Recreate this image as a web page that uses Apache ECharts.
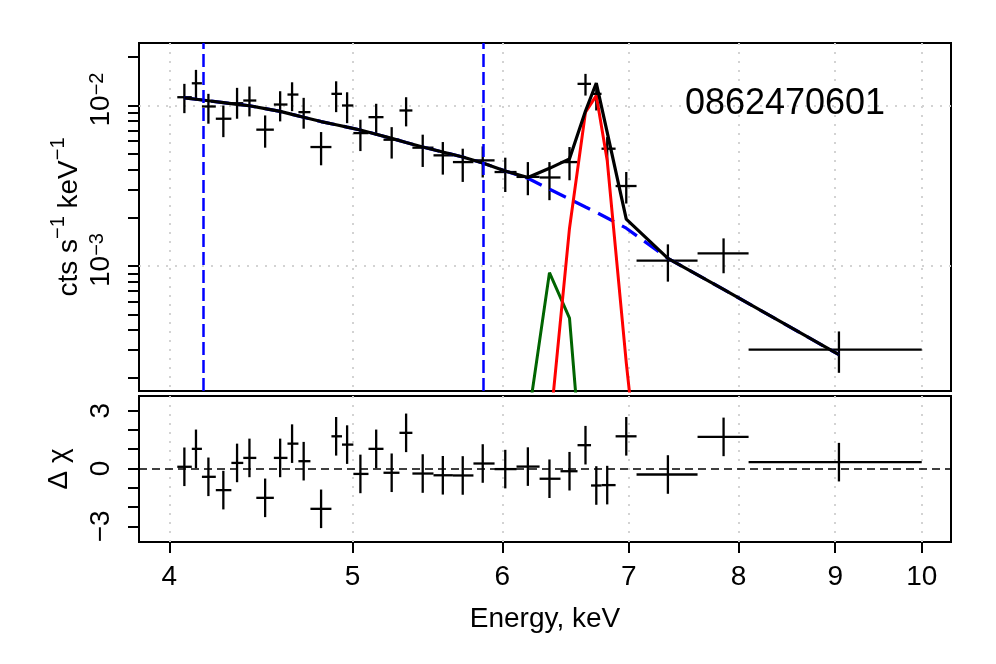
<!DOCTYPE html>
<html>
<head>
<meta charset="utf-8">
<script src="https://cdn.jsdelivr.net/npm/echarts@6.0.0/dist/echarts.min.js"></script>
<style>
  html, body { margin: 0; padding: 0; background: #fff; }
  #spec { width: 996px; height: 664px; }
</style>
</head>
<body>
<div id="spec"></div>
<script>
// energy bins (keV): edges and plotted centres
var binEdges = [4.039, 4.111, 4.162, 4.233, 4.314, 4.377, 4.447, 4.543, 4.619, 4.681, 4.750,
  4.873, 4.936, 5.005, 5.098, 5.192, 5.294, 5.378, 5.518, 5.650, 5.793, 5.944, 6.105, 6.279,
  6.441, 6.576, 6.685, 6.771, 6.888, 7.066, 7.611, 8.099, 10.0];
var energy = [4.074, 4.132, 4.195, 4.272, 4.344, 4.410, 4.495, 4.578, 4.645, 4.711, 4.812,
  4.901, 4.967, 5.048, 5.146, 5.244, 5.337, 5.446, 5.581, 5.718, 5.859, 6.022, 6.190, 6.355,
  6.512, 6.640, 6.728, 6.818, 6.978, 7.341, 7.856, 9.041];

// observed rate, cts s^-1 keV^-1, with lower / upper error ends
var rate = [0.01126, 0.01375, 0.00986, 0.00827, 0.01033, 0.01074, 0.00707, 0.01014, 0.01170,
  0.00909, 0.00551, 0.01182, 0.01000, 0.00673, 0.00846, 0.00612, 0.00931, 0.00546, 0.00489,
  0.00444, 0.00455, 0.00385, 0.00359, 0.00356, 0.00444, 0.01364, 0.01182, 0.00538, 0.00315,
  0.001079, 0.001199, 0.000301];
var rateLo = [0.00896, 0.01074, 0.00770, 0.00635, 0.00827, 0.00855, 0.00546, 0.00796, 0.00922,
  0.00717, 0.00424, 0.00909, 0.00776, 0.00520, 0.00651, 0.00467, 0.00741, 0.00414, 0.00371,
  0.00334, 0.00356, 0.00289, 0.00276, 0.00257, 0.00342, 0.01153, 0.00931, 0.00434, 0.00245,
  0.000799, 0.000901, 0.000216];
var rateHi = [0.01364, 0.01667, 0.01182, 0.01000, 0.01288, 0.01312, 0.00867, 0.01227, 0.01395,
  0.01116, 0.00683, 0.01415, 0.01209, 0.00815, 0.01025, 0.00733, 0.01126, 0.00658, 0.00592,
  0.00538, 0.00556, 0.00473, 0.00444, 0.00444, 0.00551, 0.01574, 0.01331, 0.00635, 0.00385,
  0.001364, 0.001486, 0.000391];

// model curves at the bin centres
var modelTotal = [0.01116, 0.01094, 0.01070, 0.01042, 0.01017, 0.00996, 0.00957, 0.00919,
  0.00880, 0.00844, 0.00794, 0.00759, 0.00733, 0.00703, 0.00662, 0.00624, 0.00588, 0.00551,
  0.00513, 0.00478, 0.00438, 0.00391, 0.00356, 0.00406, 0.00465, 0.00924, 0.01380, 0.00680,
  0.00196, 0.001116, 0.000715, 0.000280];
var modelCont = [0.01116, 0.01094, 0.01070, 0.01042, 0.01017, 0.00996, 0.00957, 0.00919,
  0.00880, 0.00844, 0.00794, 0.00759, 0.00733, 0.00703, 0.00662, 0.00624, 0.00588, 0.00551,
  0.00513, 0.00478, 0.00438, 0.00391, 0.00352, 0.00301, 0.00261, 0.00233, 0.00216, 0.00199,
  0.00172, 0.001116, 0.000715, 0.000280];
var greenE = [6.190, 6.355, 6.512, 6.640];
var greenLine = [0.000107, 0.000909, 0.000473, 0.000029];
var redE = [6.355, 6.512, 6.640, 6.728, 6.818, 6.978, 7.341];
var redLine = [0.000091, 0.00172, 0.00909, 0.01153, 0.00455, 0.00025, 0.000001];

// residuals (delta chi), error bars are +-1
var resid = [0.09, 1.02, -0.43, -1.12, 0.29, 0.55, -1.52, 0.55, 1.29, 0.38, -2.09, 1.67, 1.24,
  -0.28, 1.02, -0.22, 1.85, -0.26, -0.35, -0.36, 0.26, -0.03, 0.10, -0.53, -0.14, 1.21, -0.88,
  -0.86, 1.67, -0.31, 1.64, 0.33];
var residErr = 1;

// marked energies (blue dashed verticals)
var markEnergies = [4.166, 5.855];

// ticks
var energyTicks = [4, 5, 6, 7, 8, 9, 10];
var rateTicks = [0.0002, 0.0003, 0.0004, 0.0005, 0.0006, 0.0007, 0.0008, 0.0009, 0.001,
  0.002, 0.003, 0.004, 0.005, 0.006, 0.007, 0.008, 0.009, 0.01, 0.02];
var rateLabelValues = [0.001, 0.01];
var rateLabelText = ['10{sup|\u22123}', '10{sup|\u22122}'];
var residTicks = [-3, -2, -1, 0, 1, 2, 3];
var residLabelValues = [-3, 0, 3];

var xMin = 3.855, xMax = 10.363;
var yMin = 1.664e-4, yMax = 0.02451;
var rMin = -3.81, rMax = 3.76;

var FONT = '"Liberation Sans", Arial, Helvetica, sans-serif';
var dotted = { color: '#d3d3d3', width: 2, type: [2, 7] };
var blk = { color: '#000', width: 2 };

var specData = energy.map(function (e, i) {
  return [e, binEdges[i], binEdges[i + 1], rate[i], rateLo[i], rateHi[i]];
});
var residData = energy.map(function (e, i) {
  return [e, binEdges[i], binEdges[i + 1], resid[i], resid[i] - residErr, resid[i] + residErr];
});
function pairs(xs, ys) {
  return xs.map(function (x, i) { return [x, ys[i]]; });
}

function renderCross(params, api) {
  var y = api.value(3);
  var mid = api.coord([api.value(0), y]);
  var left = api.coord([api.value(1), y]);
  var right = api.coord([api.value(2), y]);
  var top = api.coord([api.value(0), api.value(5)]);
  var bot = api.coord([api.value(0), api.value(4)]);
  var st = { stroke: '#000', lineWidth: 2.3, fill: null };
  return {
    type: 'group',
    children: [
      { type: 'line', shape: { x1: left[0], y1: mid[1], x2: right[0], y2: mid[1] }, style: st },
      { type: 'line', shape: { x1: mid[0], y1: top[1], x2: mid[0], y2: bot[1] }, style: st }
    ]
  };
}

var chart = echarts.init(document.getElementById('spec'));

var option = {
  animation: false,
  backgroundColor: '#fff',
  textStyle: { fontFamily: FONT },
  graphic: [{
    type: 'text', x: 785, y: 104.5, z: 100,
    style: { text: '0862470601', fontSize: 36, fontFamily: FONT, fill: '#000',
      align: 'center', verticalAlign: 'middle' }
  }],
  grid: [
    { left: 139, top: 43, width: 812, height: 348, show: true, borderColor: '#000',
      borderWidth: 2, backgroundColor: 'transparent', outerBoundsMode: 'none' },
    { left: 139, top: 396, width: 812, height: 146, show: true, borderColor: '#000',
      borderWidth: 2, backgroundColor: 'transparent', outerBoundsMode: 'none' }
  ],
  xAxis: [
    {
      gridIndex: 0, type: 'log', logBase: 10, min: xMin, max: xMax,
      axisLine: { show: false, onZero: false },
      axisTick: { show: false, customValues: energyTicks },
      axisLabel: { show: false },
      splitLine: { show: true, lineStyle: dotted }
    },
    {
      gridIndex: 1, type: 'log', logBase: 10, min: xMin, max: xMax, position: 'bottom',
      axisLine: { show: false, onZero: false },
      axisTick: { show: true, customValues: energyTicks, length: 11, lineStyle: blk },
      axisLabel: {
        customValues: energyTicks, fontSize: 28, color: '#000', margin: 21, fontFamily: FONT,
        formatter: function (v) { return String(Math.round(v)); }
      },
      splitLine: { show: true, lineStyle: dotted },
      name: 'Energy, keV', nameLocation: 'middle', nameGap: 63, nameMoveOverlap: false,
      nameTextStyle: { fontSize: 28, color: '#000', fontFamily: FONT }
    }
  ],
  yAxis: [
    {
      gridIndex: 0, type: 'log', logBase: 10, min: yMin, max: yMax, position: 'left',
      axisLine: { show: false, onZero: false },
      axisTick: { show: true, customValues: rateTicks, length: 11, lineStyle: blk },
      axisLabel: {
        customValues: rateLabelValues, rotate: 90, margin: 24, color: '#000',
        fontSize: 28, fontFamily: FONT, padding: [0, 0, 0, 12],
        formatter: function (v) {
          for (var i = 0; i < rateLabelValues.length; i++) {
            if (Math.abs(rateLabelValues[i] - v) < v * 1e-6) return rateLabelText[i];
          }
          return '';
        },
        rich: {
          sup: { fontSize: 20, fontFamily: FONT, color: '#000', verticalAlign: 'top', lineHeight: 20 }
        }
      },
      splitLine: { show: false },
      name: '{n|cts s}{s|\u22121}{n| keV}{s|\u22121}',
      nameLocation: 'middle', nameRotate: 90, nameGap: 56, nameMoveOverlap: false,
      nameTextStyle: {
        color: '#000', fontFamily: FONT,
        rich: {
          n: { fontSize: 28, fontFamily: FONT, color: '#000', lineHeight: 35, verticalAlign: 'bottom' },
          s: { fontSize: 20, fontFamily: FONT, color: '#000', lineHeight: 20, verticalAlign: 'top' }
        }
      }
    },
    {
      gridIndex: 0, type: 'log', logBase: 10, min: yMin, max: yMax, position: 'left',
      axisLine: { show: false, onZero: false },
      axisTick: { show: false, customValues: rateLabelValues },
      axisLabel: { show: false },
      splitLine: { show: true, lineStyle: dotted }
    },
    {
      gridIndex: 1, type: 'value', min: rMin, max: rMax, position: 'left',
      axisLine: { show: false, onZero: false },
      axisTick: { show: true, customValues: residTicks, length: 11, lineStyle: blk },
      axisLabel: {
        customValues: residLabelValues, rotate: 90, margin: 24, color: '#000',
        fontSize: 28, fontFamily: FONT,
        formatter: function (v) { return v < 0 ? '\u2212' + Math.abs(v) : String(v); }
      },
      splitLine: { show: false },
      name: '\u0394 \u03c7', nameLocation: 'middle', nameRotate: 90, nameGap: 66,
      nameMoveOverlap: false,
      nameTextStyle: { fontSize: 28, color: '#000', fontFamily: FONT }
    }
  ],
  series: [
    {
      type: 'custom', name: 'data', xAxisIndex: 0, yAxisIndex: 0,
      renderItem: renderCross, data: specData,
      encode: { x: [0, 1, 2], y: [3, 4, 5] }, silent: true
    },
    {
      type: 'line', name: 'continuum', xAxisIndex: 0, yAxisIndex: 0,
      data: pairs(energy, modelCont), symbol: 'none', clip: true, silent: true,
      lineStyle: { color: '#0000ff', width: 3.2, type: [18, 9] },
      markLine: {
        silent: true, symbol: ['none', 'none'], label: { show: false },
        lineStyle: { color: '#0000ff', width: 2.5, type: [13, 5] },
        data: markEnergies.map(function (e) { return { xAxis: e }; })
      }
    },
    {
      type: 'line', name: 'line1', xAxisIndex: 0, yAxisIndex: 0,
      data: pairs(greenE, greenLine), symbol: 'none', clip: true, silent: true,
      lineStyle: { color: '#006400', width: 3 }
    },
    {
      type: 'line', name: 'line2', xAxisIndex: 0, yAxisIndex: 0,
      data: pairs(redE, redLine), symbol: 'none', clip: true, silent: true,
      lineStyle: { color: '#ff0000', width: 3 }
    },
    {
      type: 'line', name: 'total', xAxisIndex: 0, yAxisIndex: 0,
      data: pairs(energy, modelTotal), symbol: 'none', clip: true, silent: true,
      lineStyle: { color: '#000', width: 3.2 }
    },
    {
      type: 'custom', name: 'resid', xAxisIndex: 1, yAxisIndex: 2,
      renderItem: renderCross, data: residData,
      encode: { x: [0, 1, 2], y: [3, 4, 5] }, silent: true,
      markLine: {
        silent: true, symbol: ['none', 'none'], label: { show: false },
        lineStyle: { color: '#000', width: 1.6, type: [8, 5] },
        data: [{ yAxis: 0 }]
      }
    }
  ]
};

chart.setOption(option);
</script>
</body>
</html>
